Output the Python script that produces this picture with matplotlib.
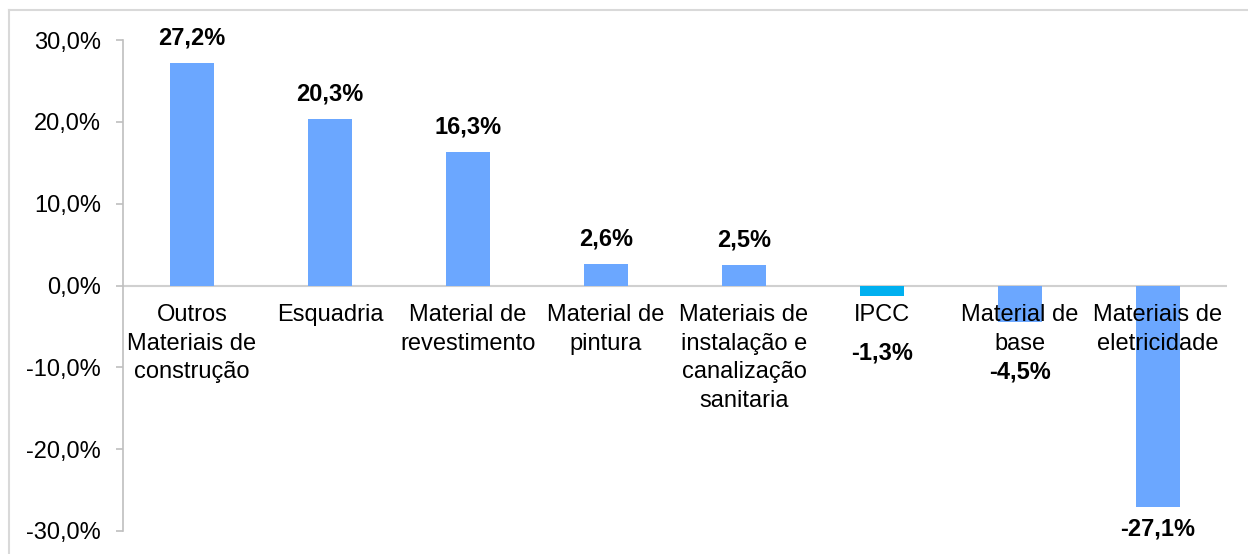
import matplotlib
matplotlib.use("Agg")
import matplotlib.pyplot as plt
from matplotlib.lines import Line2D

plt.rcParams['font.family'] = ['Liberation Sans', 'DejaVu Sans']

categories = ["Outros\nMateriais de\nconstrução", "Esquadria", "Material de\nrevestimento",
              "Material de\npintura", "Materiais de\ninstalação e\ncanalização\nsanitaria",
              "IPCC", "Material de\nbase", "Materiais de\neletricidade"]
values = [27.2, 20.3, 16.3, 2.6, 2.5, -1.3, -4.5, -27.1]
value_labels = ["27,2%", "20,3%", "16,3%", "2,6%", "2,5%", "-1,3%", "-4,5%", "-27,1%"]
bar_colors = ["#6BA7FF"] * 5 + ["#00B0F0"] + ["#6BA7FF"] * 2
label_offsets_pt = [18, 18, 18, 18, 18, -41, -36, -16]
yticks = [-30, -20, -10, 0, 10, 20, 30]
ytick_labels = ["-30,0%", "-20,0%", "-10,0%", "0,0%", "10,0%", "20,0%", "30,0%"]

fig = plt.figure(figsize=(12.48, 5.54), dpi=100)
ax = fig.add_axes([123/1248, 1-531/554, (1227-123)/1248, (531-40)/554])

x = list(range(len(categories)))
ax.bar(x, values, width=0.32, color=bar_colors, zorder=2)
ax.set_xlim(-0.5, len(categories) - 0.5)
ax.set_ylim(-30, 30)
ax.set_yticks(yticks)
ax.set_yticklabels(ytick_labels, fontsize=17)
ax.tick_params(axis='y', length=5, width=1.2, color='#BFBFBF', pad=11)
ax.set_xticks([])
for s in ['top', 'right', 'bottom']:
    ax.spines[s].set_visible(False)
ax.spines['left'].set_color('#BFBFBF')
ax.spines['left'].set_linewidth(1.2)
ax.axhline(0, color='#D0D0D0', lw=1.5, zorder=1)

for xi, v, lab, off in zip(x, values, value_labels, label_offsets_pt):
    ax.annotate(lab, (xi, v), xytext=(0, off), textcoords='offset points',
                ha='center', va='center', fontsize=17, fontweight='bold', zorder=4)

for xi, c in zip(x, categories):
    ax.annotate(c, (xi, 0), xytext=(0, -13.5), textcoords='offset points',
                ha='center', va='top', fontsize=17, linespacing=1.38, zorder=3)

# chart frame
fig.add_artist(Line2D([9/1248, 9/1248], [-0.1, 1-10/554], transform=fig.transFigure,
                      color='#D9D9D9', lw=1.5))
fig.add_artist(Line2D([9/1248, 1.1], [1-10/554, 1-10/554], transform=fig.transFigure,
                      color='#D9D9D9', lw=1.5))

fig.savefig("out.png", dpi=100)
